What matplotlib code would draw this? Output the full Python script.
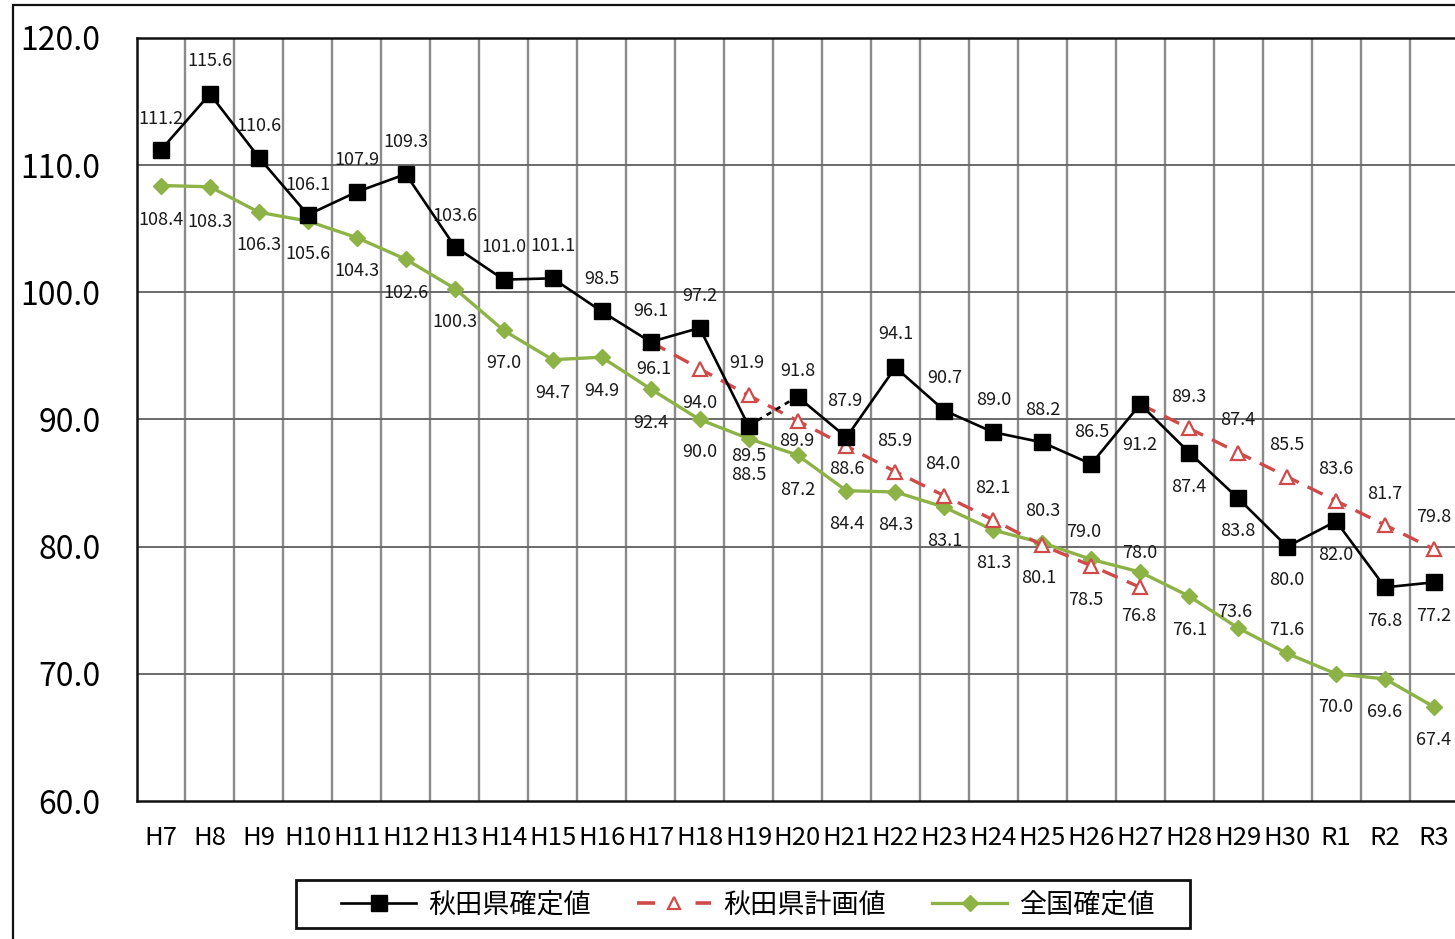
import numpy as np
import matplotlib
matplotlib.use("Agg")
import matplotlib.pyplot as plt
from matplotlib.lines import Line2D
from matplotlib.patches import Rectangle

plt.rcParams['font.family'] = ['Noto Sans CJK JP', 'DejaVu Sans']

# ---- data -------------------------------------------------------------
years = ["H7", "H8", "H9", "H10", "H11", "H12", "H13", "H14", "H15", "H16",
         "H17", "H18", "H19", "H20", "H21", "H22", "H23", "H24", "H25", "H26",
         "H27", "H28", "H29", "H30", "R1", "R2", "R3"]

akita_actual = [111.2, 115.6, 110.6, 106.1, 107.9, 109.3, 103.6, 101.0, 101.1, 98.5,
                96.1, 97.2, 89.5, 91.8, 88.6, 94.1, 90.7, 89.0, 88.2, 86.5,
                91.2, 87.4, 83.8, 80.0, 82.0, 76.8, 77.2]

# first plan period (H17-H27) and revised plan period (H27-R3)
plan_first_years = ["H17", "H18", "H19", "H20", "H21", "H22", "H23", "H24", "H25", "H26", "H27"]
plan_first = [96.1, 94.0, 91.9, 89.9, 87.9, 85.9, 84.0, 82.1, 80.1, 78.5, 76.8]
plan_second_years = ["H27", "H28", "H29", "H30", "R1", "R2", "R3"]
plan_second = [91.2, 89.3, 87.4, 85.5, 83.6, 81.7, 79.8]

national = [108.4, 108.3, 106.3, 105.6, 104.3, 102.6, 100.3, 97.0, 94.7, 94.9,
            92.4, 90.0, 88.5, 87.2, 84.4, 84.3, 83.1, 81.3, 80.3, 79.0,
            78.0, 76.1, 73.6, 71.6, 70.0, 69.6, 67.4]

series_names = ["秋田県確定値", "秋田県計画値", "全国確定値"]
y_ticks = [60, 70, 80, 90, 100, 110, 120]

# ---- label placement (pixel offsets dx, dy from the marker; +dy = up) ----
akita_off = [(0, 31), (0, 33), (0, 32), (0, 30), (0, 32), (0, 32), (0, 31), (0, 33), (0, 32), (0, 32),
             (0, 31), (0, 32), (0, -30), (0, 26), (0, -32), (0, 33), (0, 33), (0, 32), (0, 32), (0, 32),
             (0, -41), (0, -34), (0, -33), (0, -33), (0, -34), (0, -34), (0, -34)]
plan_first_off = [(3, -27), (0, -34), (-2, 32), (-1, -20), (-2, 45), (-1, 31), (-2, 32), (-1, 32), (-4, -33), (-6, -34), (-1, -29)]
plan_second_off = [None, (0, 31), (0, 33), (0, 32), (0, 32), (0, 31), (0, 32)]
national_off = [(0, -34), (0, -35), (0, -33), (0, -33), (0, -33), (0, -34), (0, -33), (0, -33), (0, -33), (0, -34),
                (0, -34), (0, -33), (0, -36), (0, -35), (0, -33), (0, -33), (0, -34), (0, -33), (0, 32), (-8, 27),
                (0, 19), (0, -34), (-3, 16), (0, 23), (0, -33), (0, -33), (0, -33)]

# ---- figure -------------------------------------------------------------
W, H = 1455, 939
fig = plt.figure(figsize=(W / 100, H / 100), dpi=100)

# outer chart frame (runs off the right and bottom edges)
fig.add_artist(Rectangle((13 / W, -0.05), 1.1, 1 - 5 / H + 0.05, transform=fig.transFigure,
                         fill=False, edgecolor="#111111", linewidth=1.6, clip_on=False))

left, right, top, bottom = 136.5, 1458.5, 38, 801
ax = fig.add_axes([left / W, 1 - bottom / H, (right - left) / W, (bottom - top) / H])

x = np.arange(len(years))
idx = {y: i for i, y in enumerate(years)}

ax.set_xlim(-0.5, len(years) - 0.5)
ax.set_ylim(60, 120)
ax.set_yticks(y_ticks)
ax.set_yticklabels([f"{v:.1f}" for v in y_ticks], fontsize=23)
ax.set_xticks(x)
ax.set_xticklabels(years, fontsize=18.5)
ax.tick_params(axis="y", length=0, pad=26)
ax.tick_params(axis="x", length=0, pad=17)
for lab in ax.get_yticklabels():
    lab.set_horizontalalignment("right")

# grid: vertical lines between categories, horizontal at ticks
for b in np.arange(0.5, len(years) - 0.5, 1.0):
    ax.axvline(b, color="#8a8a8a", lw=1.7, zorder=1)
for v in y_ticks[1:-1]:
    ax.axhline(v, color="#6a6a6a", lw=1.4, zorder=1)

for s in ["top", "left", "bottom"]:
    ax.spines[s].set_linewidth(1.8)
    ax.spines[s].set_color("#111111")
ax.spines["right"].set_visible(False)

black = "#000000"
green = "#8db347"
red = "#d04a4a"

# national confirmed values
ax.plot(x, national, color=green, lw=2.4, marker="D", ms=8.5, mfc=green, mec=green, zorder=3)

# plan values
px1 = [idx[y] for y in plan_first_years]
px2 = [idx[y] for y in plan_second_years]
for px, pv in ((px1, plan_first), (px2, plan_second)):
    ax.plot(px, pv, color=red, lw=2.4, ls=(0, (5, 3)), marker="^", ms=10,
            mfc="white", mec=red, mew=1.6, zorder=4)

# Akita confirmed values; H19-H20 segment drawn dotted
i19, i20 = idx["H19"], idx["H20"]
ax.plot(x[:i19 + 1], akita_actual[:i19 + 1], color=black, lw=1.9, zorder=5)
ax.plot(x[i19:i20 + 1], akita_actual[i19:i20 + 1], color=black, lw=1.9, ls=(0, (2, 2)), zorder=5)
ax.plot(x[i20:], akita_actual[i20:], color=black, lw=1.9, zorder=5)
ax.plot(x, akita_actual, ls="none", marker="s", ms=11, mfc=black, mec=black, zorder=6)

# data labels
def put_labels(xs, vals, offs):
    for xi, v, off in zip(xs, vals, offs):
        if off is None:
            continue
        dx, dy = off
        ax.annotate(f"{v:.1f}", (xi, v), xytext=(dx * 0.72, dy * 0.72), textcoords="offset points",
                    ha="center", va="center", fontsize=13, color="#1a1a1a", zorder=7,
                    annotation_clip=False)

put_labels(x, akita_actual, akita_off)
put_labels(px1, plan_first, plan_first_off)
put_labels(px2, plan_second, plan_second_off)
put_labels(x, national, national_off)

# legend: entries without frame, box drawn separately
handles = [
    Line2D([], [], color=black, lw=1.9, marker="s", ms=11, mfc=black),
    Line2D([], [], color=red, lw=2.6, ls=(0, (5.0, 11.2)), marker="^", ms=8, mfc="white", mec=red, mew=1.6),
    Line2D([], [], color=green, lw=2.4, marker="D", ms=8, mfc=green, mec=green),
]
leg = fig.legend(handles, series_names, loc="center", bbox_to_anchor=(748 / W, 1 - 905 / H),
                 ncol=3, fontsize=19.5, frameon=False, handlelength=2.75,
                 handletextpad=0.45, columnspacing=1.7, borderpad=0.3)
fig.add_artist(Rectangle((296 / W, 1 - 928 / H), (1190 - 296) / W, 48 / H, transform=fig.transFigure,
                         fill=False, edgecolor="#111111", linewidth=2.0))

fig.savefig("out.png", dpi=100)
